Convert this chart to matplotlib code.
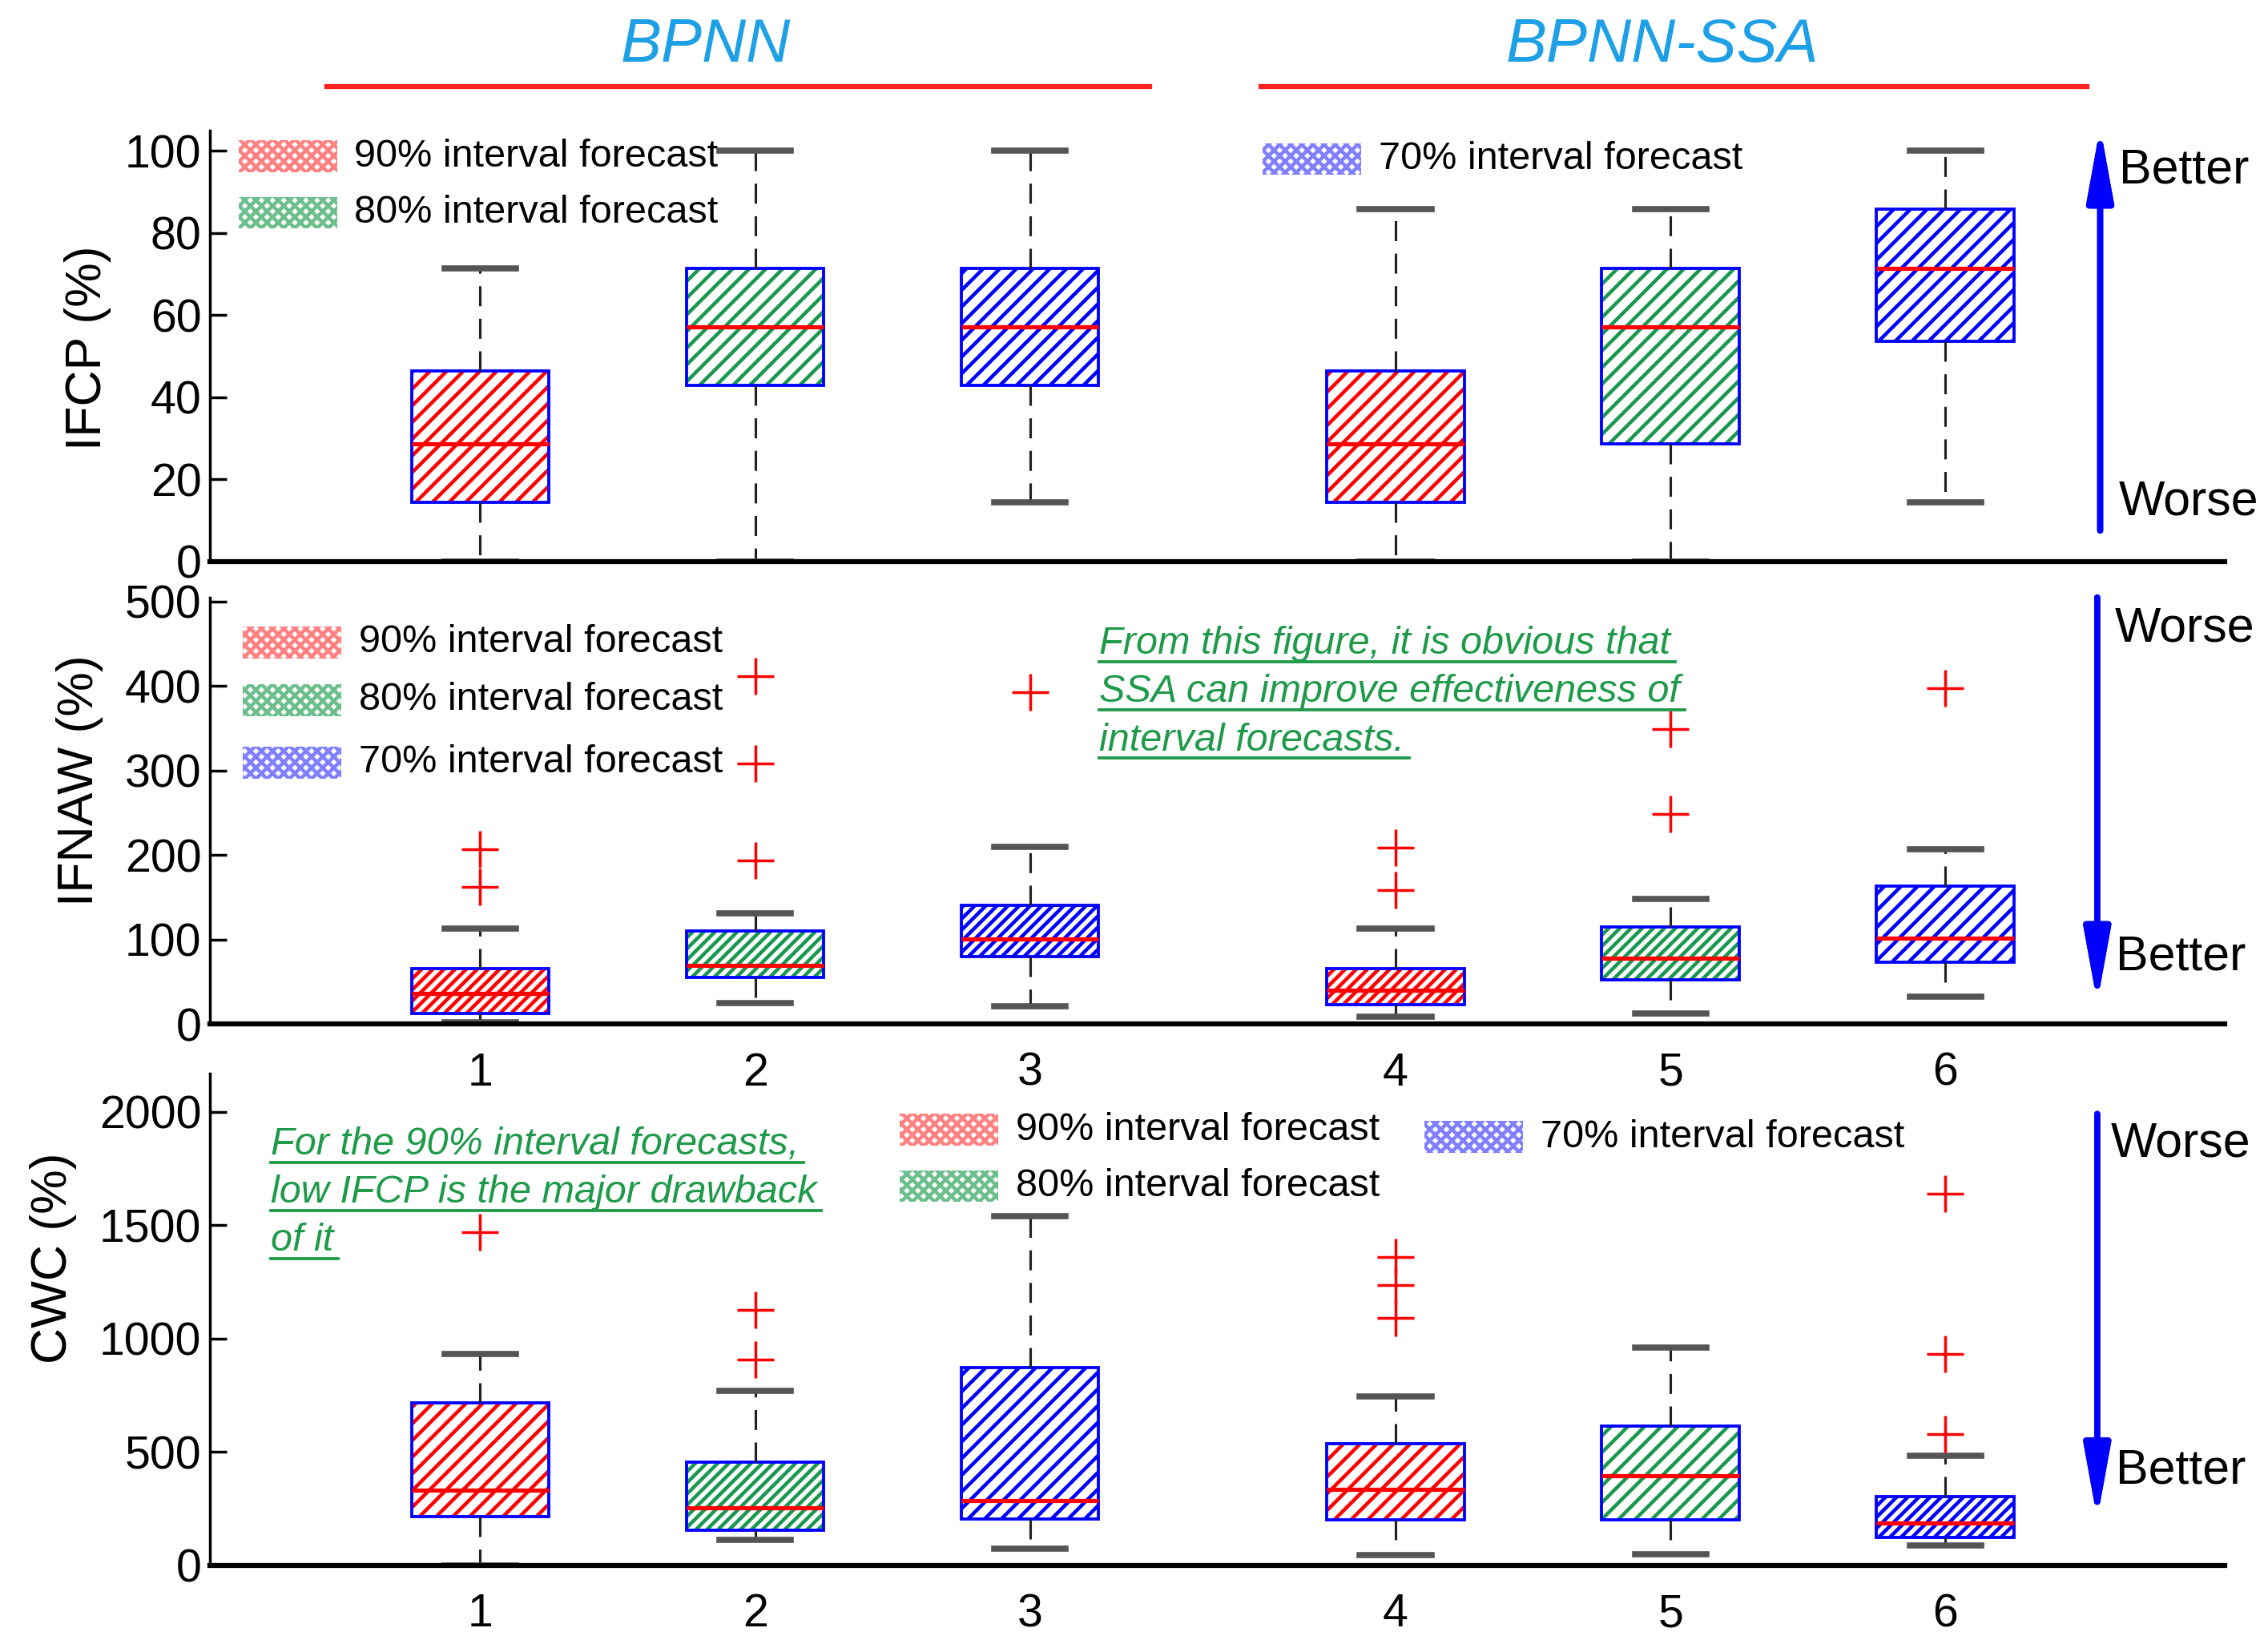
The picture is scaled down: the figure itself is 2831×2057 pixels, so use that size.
import matplotlib.pyplot as plt
from matplotlib.patches import PathPatch, Rectangle
from matplotlib.lines import Line2D

plt.rcParams['font.family'] = ['Liberation Sans', 'DejaVu Sans']
plt.rcParams['hatch.linewidth'] = 1.3

positions = [1, 2, 3, 4.33, 5.33, 6.33]
xlabels = ['1', '2', '3', '4', '5', '6']
levels = ['90% interval forecast', '80% interval forecast', '70% interval forecast']

# (whislo, q1, med, q3, whishi)
ifcp_stats = [(0, 14.3, 28.6, 46.4, 71.4),
              (0, 42.9, 57.1, 71.4, 100),
              (14.3, 42.9, 57.1, 71.4, 100),
              (0, 14.3, 28.6, 46.4, 85.7),
              (0, 28.6, 57.1, 71.4, 85.7),
              (14.3, 53.6, 71.4, 85.7, 100)]
ifcp_out = [[], [], [], [], [], []]

ifnaw_stats = [(2, 13, 36, 66, 113),
               (25, 55, 69, 110, 131),
               (21, 80, 101, 141, 210),
               (9, 23, 40, 66, 113),
               (13, 52, 78, 115, 148),
               (32, 73, 102, 163, 207)]
ifnaw_out = [[207, 162], [412, 308, 194], [393], [209, 159], [349, 249], [398]]

cwc_stats = [(0, 214, 331, 716, 930),
             (110, 155, 252, 453, 768),
             (73, 202, 283, 871, 1540),
             (43, 199, 333, 537, 746),
             (48, 199, 394, 612, 960),
             (88, 122, 185, 303, 482)]
cwc_out = [[1470], [1125, 906], [], [1359, 1234, 1089], [], [1640, 930, 577]]

hatch_col = ['#ff0000', '#1a9850', '#0000ff']
legend_col = ['#ff8080', '#6cbf8c', '#8080ff']
green_txt = '#1f9a4a'
title_col = '#1ea0e6'

fig = plt.figure(figsize=(2831 / 250, 2057 / 250), dpi=250)
ax1 = fig.add_axes([0.0925, 0.6594, 0.8885, 0.2616])
ax2 = fig.add_axes([0.0925, 0.3786, 0.8885, 0.2589])
ax3 = fig.add_axes([0.0925, 0.0503, 0.8885, 0.2984])


def draw_boxes(ax, stats, outs, hatches):
    data = []
    for s, o in zip(stats, outs):
        data.append(dict(whislo=s[0], q1=s[1], med=s[2], q3=s[3], whishi=s[4], fliers=o))
    res = ax.bxp(data, positions=positions, widths=0.5, capwidths=0.26,
                 patch_artist=True,
                 boxprops=dict(facecolor='none', edgecolor='#0000ff', lw=1.1),
                 medianprops=dict(color='red', lw=1.5),
                 whiskerprops=dict(color='#222222', lw=0.9, linestyle=(0, (8, 5))),
                 capprops=dict(color='#555555', lw=2.2),
                 flierprops=dict(marker='+', markeredgecolor='red', markersize=13, mew=1.0))
    for i, b in enumerate(res['boxes']):
        hp = PathPatch(b.get_path(), transform=ax.transData, facecolor='none',
                       edgecolor=hatch_col[i % 3], lw=0, hatch=hatches[i], zorder=1.5)
        ax.add_patch(hp)


def style(ax, ylim, yticks, ylabel, lx, ly, labels=True):
    ax.patch.set_visible(False)
    ax.set_xlim(0.016, 7.347)
    ax.set_ylim(*ylim)
    ax.set_yticks(yticks)
    ax.set_xticks(positions)
    ax.set_xticklabels(xlabels if labels else [])
    ax.tick_params(axis='x', length=0, labelsize=16.5, pad=10)
    ax.tick_params(axis='y', direction='in', length=6, width=1, labelsize=16.5, pad=3)
    for s in ['top', 'right']:
        ax.spines[s].set_visible(False)
    ax.spines['left'].set_linewidth(1.0)
    ax.spines['bottom'].set_linewidth(1.8)
    ax.set_ylabel(ylabel, fontsize=18)
    ax.yaxis.set_label_coords(lx, ly)


draw_boxes(ax1, ifcp_stats, ifcp_out, ['////'] * 6)
draw_boxes(ax2, ifnaw_stats, ifnaw_out, ['//////'] * 5 + ['////'])
draw_boxes(ax3, cwc_stats, cwc_out, ['////', '//////', '////', '////', '////', '//////'])

style(ax1, (0, 105), range(0, 101, 20), 'IFCP (%)', -0.049, 0.495, labels=False)
style(ax2, (0, 505), range(0, 501, 100), 'IFNAW (%)', -0.053, 0.57)
style(ax3, (0, 2170), range(0, 2001, 500), 'CWC (%)', -0.066, 0.624)


def legend_item(x, y, k):
    fig.add_artist(Rectangle((x, y - 0.0097), 0.0434, 0.0193, transform=fig.transFigure,
                             facecolor='white', edgecolor=legend_col[k], lw=0,
                             hatch='xxxxxx'))
    fig.text(x + 0.0511, y, levels[k], fontsize=14, va='center', ha='left')


legend_item(0.1052, 0.9052, 0)
legend_item(0.1052, 0.8710, 1)
legend_item(0.5568, 0.9035, 2)
legend_item(0.1071, 0.6103, 0)
legend_item(0.1071, 0.5752, 1)
legend_item(0.1071, 0.5374, 2)
legend_item(0.3967, 0.3145, 0)
legend_item(0.3967, 0.2803, 1)
legend_item(0.6282, 0.3101, 2)

# group titles
fig.text(0.311, 0.972, 'BPNN', fontsize=22, style='italic', color=title_col, ha='center', va='center')
fig.text(0.733, 0.972, 'BPNN-SSA', fontsize=22, style='italic', color=title_col, ha='center', va='center')
fig.add_artist(Line2D([0.144, 0.507], [0.9473, 0.9473], transform=fig.transFigure, color='#ff2020', lw=1.8))
fig.add_artist(Line2D([0.556, 0.920], [0.9473, 0.9473], transform=fig.transFigure, color='#ff2020', lw=1.8))


def arrow(x, y0, y1):
    fig.add_artist(plt.annotate('', xy=(x, y1), xytext=(x, y0), xycoords='figure fraction',
                                arrowprops=dict(arrowstyle='-|>,head_length=0.55,head_width=0.1',
                                                mutation_scale=40, color='#0000ff', lw=2.2,
                                                shrinkA=0, shrinkB=0)))


arrow(0.926, 0.678, 0.9228)
arrow(0.9247, 0.6375, 0.3917)
arrow(0.9247, 0.3241, 0.0784)
fig.text(0.9343, 0.8964, 'Better', fontsize=17.5, va='center')
fig.text(0.9343, 0.6954, 'Worse', fontsize=17.5, va='center')
fig.text(0.9324, 0.6182, 'Worse', fontsize=17.5, va='center')
fig.text(0.9330, 0.4189, 'Better', fontsize=17.5, va='center')
fig.text(0.9305, 0.3057, 'Worse', fontsize=17.5, va='center')
fig.text(0.9330, 0.1074, 'Better', fontsize=17.5, va='center')

# underlined notes
note_mid = ['From this figure, it is obvious that', 'SSA can improve effectiveness of', 'interval forecasts.']
note_bot = ['For the 90% interval forecasts,', 'low IFCP is the major drawback', 'of it']
texts = []
for lines, x, y in [(note_mid, 0.4847, 0.6033), (note_bot, 0.1193, 0.2996)]:
    for j, s in enumerate(lines):
        texts.append(fig.text(x, y - j * 0.0293, s, fontsize=14, style='italic',
                              color=green_txt, va='baseline', ha='left'))

fig.canvas.draw()
inv = fig.transFigure.inverted()
for t in texts:
    bb = t.get_window_extent().transformed(inv)
    yb = t.get_position()[1] - 0.0048
    fig.add_artist(Line2D([bb.x0, bb.x1 + 0.002], [yb, yb], transform=fig.transFigure,
                          color=green_txt, lw=1.1))

fig.savefig('out.png', dpi=250)
